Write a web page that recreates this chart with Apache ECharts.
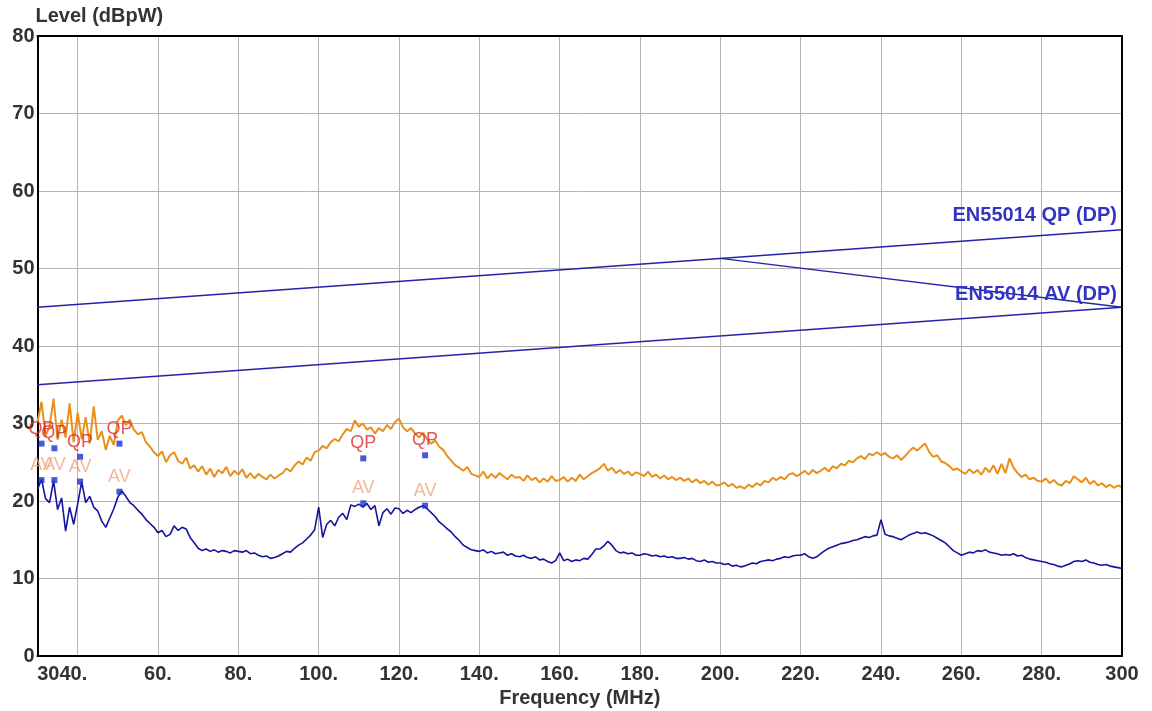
<!DOCTYPE html>
<html>
<head>
<meta charset="utf-8">
<title>EN55014 disturbance power</title>
<script src="https://cdn.jsdelivr.net/npm/echarts@6/dist/echarts.min.js"></script>
<style>
html, body { margin: 0; padding: 0; background: #fff; }
#chart { width: 1152px; height: 711px; }
</style>
</head>
<body>
<div id="chart"></div>
<script>
// frequency sweep, 1 MHz steps from 30 to 300
var startFreq = 30;
var freqStep = 1;

// peak trace (orange), dBpW, one value per MHz
var peakLevels = [
    30.2, 32.8, 28.4, 29.6, 33.2, 27.9, 30.5, 28.2, 32.6, 27.6,
    31.4, 28.0, 30.8, 27.4, 32.2, 27.9, 29.0, 26.6, 28.4, 27.2,
    30.4, 31.0, 29.8, 30.5, 29.2, 28.6, 28.9, 27.6, 27.0, 26.3,
    25.8, 26.4, 25.0, 25.9, 26.3, 25.2, 24.8, 25.6, 24.2, 24.6,
    23.8, 24.5, 23.4, 24.2, 23.1, 24.0, 23.6, 24.4, 23.2, 23.9,
    23.4, 24.1, 23.0, 23.6, 22.9, 23.5, 23.1, 22.8, 23.4, 22.9,
    23.3, 23.6, 24.2, 23.8, 24.6, 25.1, 24.7, 25.6, 25.2, 26.3,
    26.5, 27.1, 26.8, 27.6, 28.0, 27.7, 28.6, 29.3, 29.0, 30.4,
    29.6, 30.0, 29.2, 29.5, 28.7, 29.4, 29.0, 29.8, 29.3, 30.2,
    30.6, 29.5, 29.0, 29.4, 28.7, 28.2, 28.8, 28.0, 27.4, 27.8,
    27.0, 26.6, 25.8, 25.2, 24.6, 24.3, 23.9, 24.4, 23.5, 23.3,
    23.1, 23.8, 22.9, 23.5, 23.0, 23.6, 23.2, 22.8, 23.4, 23.0,
    23.1, 22.6, 23.3, 22.7, 23.0, 22.4, 22.9, 22.5, 23.2, 22.6,
    22.7, 23.1, 22.5, 23.0, 22.6, 23.4, 22.8, 23.2, 23.6, 23.9,
    24.2, 24.8, 23.9, 24.3, 23.6, 24.0, 23.5, 23.8, 23.3, 23.7,
    23.5, 23.2, 23.8, 23.1, 23.4, 22.9, 23.3, 22.8, 23.1, 22.7,
    23.0, 22.6, 22.9, 22.4, 22.8, 22.3, 22.6, 22.1, 22.5, 22.0,
    22.1, 22.4, 21.9, 22.2, 21.7, 21.9, 21.6, 22.1, 21.8, 22.3,
    22.0, 22.6, 22.4, 23.0, 22.7, 23.1, 22.8, 23.4, 23.6, 23.2,
    23.5, 23.9, 23.4, 24.0, 23.6, 23.9, 24.3, 23.8, 24.5, 24.2,
    24.8, 24.6, 25.2, 25.0, 25.5, 25.8, 25.4, 26.1, 25.9, 26.3,
    25.9, 26.2, 25.7, 25.5, 25.9, 25.3, 25.8, 26.4, 26.9, 26.5,
    27.0, 27.4, 26.3, 25.7, 25.9, 25.1, 24.9, 24.5, 24.0, 24.2,
    23.8, 23.5, 24.1, 23.6, 24.0, 23.4, 24.3, 23.7, 24.6, 23.5,
    24.8, 23.6, 25.5, 24.3, 23.6, 23.1, 23.4, 22.8, 23.0, 22.6,
    22.5, 22.9, 22.3, 22.7, 22.2, 22.0, 22.6, 22.3, 23.2, 22.8,
    22.4, 23.0, 22.2, 22.6, 22.0, 22.3, 21.8, 22.1, 21.7, 22.0,
    21.8
];

// average trace (dark blue)
var avgLevels = [
    21.5, 22.8, 20.3, 19.8, 22.6, 18.9, 20.4, 16.1, 19.2, 17.0,
    19.6, 22.5, 19.8, 20.6, 19.2, 18.7, 17.4, 16.6, 17.8, 19.0,
    20.5, 21.3, 20.6, 19.8, 19.4, 18.8, 18.3, 17.6, 17.1, 16.6,
    15.9, 16.2, 15.4, 15.7, 16.8, 16.2, 16.6, 16.4, 15.3, 14.6,
    13.9, 13.6, 13.8, 13.5, 13.7, 13.4, 13.6, 13.5, 13.3, 13.6,
    13.5, 13.4, 13.6, 13.2, 13.3, 13.0, 12.8, 12.9, 12.6, 12.7,
    12.9, 13.2, 13.5, 13.4, 13.9, 14.3, 14.6, 15.1, 15.6, 16.3,
    19.2, 15.3, 17.0, 17.5, 16.8, 17.9, 18.4, 17.6, 19.5, 19.3,
    19.6, 19.2, 19.7, 18.9, 19.4, 16.8, 18.5, 19.0, 18.3, 19.1,
    19.0, 18.4, 18.8, 18.5, 18.9, 19.2, 19.4, 19.0, 18.5, 18.0,
    17.3, 16.9, 16.4, 16.0, 15.4, 14.9, 14.3, 14.0, 13.7, 13.6,
    13.5, 13.7, 13.3, 13.5, 13.2, 13.3, 13.4, 13.0, 13.2, 12.9,
    12.8, 13.0, 12.7, 12.6, 12.8, 12.4, 12.5, 12.2, 12.0, 12.3,
    13.3, 12.3, 12.5, 12.2, 12.4, 12.3, 12.6, 12.5, 13.1, 13.8,
    13.8, 14.2, 14.8, 14.3, 13.6, 13.3, 13.4, 13.2, 13.3, 13.0,
    13.0, 13.2, 13.1, 12.9, 13.0, 12.8, 12.9, 12.7, 12.8, 12.6,
    12.6, 12.7, 12.5, 12.6, 12.3, 12.2, 12.4, 12.1, 12.2, 12.0,
    12.0, 11.8, 11.9, 11.6, 11.7, 11.5, 11.6, 11.8, 12.0, 11.9,
    12.2, 12.3, 12.4, 12.3, 12.5, 12.6, 12.8, 12.7, 12.9, 13.0,
    13.0, 13.2, 12.8, 12.6, 12.8, 13.2, 13.6, 13.9, 14.1, 14.3,
    14.5, 14.6, 14.7, 14.9, 15.0, 15.2, 15.4, 15.3, 15.5, 15.6,
    17.6, 15.7, 15.5, 15.4, 15.2, 15.0, 15.3, 15.6, 15.8, 16.0,
    15.8, 15.9, 15.7, 15.5, 15.2, 14.9, 14.6, 14.1, 13.6, 13.3,
    13.0, 13.2, 13.4, 13.3, 13.6, 13.5, 13.7, 13.4, 13.3, 13.2,
    13.0, 13.1, 13.0, 13.2, 12.9, 13.0, 12.7, 12.5, 12.4, 12.3,
    12.2, 12.1, 11.9, 11.8, 11.6, 11.5, 11.7, 11.9, 12.2, 12.3,
    12.2, 12.4, 12.1, 12.0, 11.8, 11.7, 11.8, 11.6, 11.5, 11.4,
    11.3
];

// limit lines [MHz, dBpW]
var qpLimit = [[30, 45], [300, 55]];
var avLimit = [[30, 35], [300, 45]];
var avLimitTail = [[200, 51.3], [300, 45]];

// final measurement points
var qpMarkers = [[31.0, 27.4], [34.2, 26.8], [40.6, 25.7], [50.4, 27.4], [111.1, 25.5], [126.5, 25.9]];
var avMarkers = [[31.0, 22.7], [34.2, 22.7], [40.6, 22.5], [50.4, 21.2], [111.1, 19.7], [126.5, 19.4]];

// x axis labels (30 is printed together with 40, like the original)
var freqTicks = [40, 60, 80, 100, 120, 140, 160, 180, 200, 220, 240, 260, 280, 300];

function toPairs(values) {
    var out = [];
    for (var i = 0; i < values.length; i++) {
        out.push([startFreq + i * freqStep, values[i]]);
    }
    return out;
}

var labelFont = 'Liberation Sans, Arial, sans-serif';
var limitColor = '#2424a8';

var myChart = echarts.init(document.getElementById('chart'), null, { renderer: 'canvas' });

var option = {
    animation: false,
    backgroundColor: '#fff',
    grid: { left: 37.5, right: 30, top: 36, bottom: 55, outerBoundsMode: 'none', containLabel: false },
    xAxis: [{
        type: 'value',
        min: 30,
        max: 300,
        name: 'Frequency (MHz)',
        nameLocation: 'middle',
        nameGap: 27,
        nameTextStyle: { color: '#333', fontSize: 20, fontWeight: 'bold', fontFamily: labelFont },
        axisLine: { show: true, onZero: false, lineStyle: { color: '#000', width: 2 } },
        axisTick: { show: false, customValues: freqTicks },
        splitLine: { show: true, lineStyle: { color: '#b4b4b4', width: 1 } },
        axisLabel: {
            customValues: freqTicks,
            showMaxLabel: true,
            hideOverlap: false,
            margin: 8,
            color: '#333',
            fontSize: 20,
            fontWeight: 'bold',
            fontFamily: labelFont,
            formatter: function(v) {
                if (v == 40) return '{pair|3040.}';
                if (v == 300) return '300';
                return v + '.';
            },
            rich: {
                pair: { fontSize: 20, fontWeight: 'bold', color: '#333', padding: [0, 31, 0, 0] }
            }
        }
    }, {
        // top border
        type: 'value',
        position: 'top',
        min: 30,
        max: 300,
        z: 5,
        axisLine: { show: true, onZero: false, lineStyle: { color: '#000', width: 2 } },
        axisTick: { show: false },
        axisLabel: { show: false },
        splitLine: { show: false }
    }],
    yAxis: [{
        type: 'value',
        min: 0,
        max: 80,
        interval: 10,
        name: 'Level (dBpW)',
        nameLocation: 'end',
        nameGap: 4,
        nameTextStyle: {
            color: '#333', fontSize: 20, fontWeight: 'bold', fontFamily: labelFont,
            align: 'left', verticalAlign: 'bottom', padding: [0, 0, 0, -2]
        },
        axisLine: { show: true, onZero: false, lineStyle: { color: '#000', width: 2 } },
        axisTick: { show: false },
        splitLine: { show: true, lineStyle: { color: '#b4b4b4', width: 1 } },
        axisLabel: { margin: 3, color: '#333', fontSize: 20, fontWeight: 'bold', fontFamily: labelFont }
    }, {
        // right border
        type: 'value',
        position: 'right',
        min: 0,
        max: 80,
        z: 5,
        axisLine: { show: true, onZero: false, lineStyle: { color: '#000', width: 2 } },
        axisTick: { show: false },
        axisLabel: { show: false },
        splitLine: { show: false }
    }],
    series: [{
        name: 'Peak',
        type: 'line',
        data: toPairs(peakLevels),
        showSymbol: false,
        lineStyle: { color: '#e8901c', width: 2 },
        z: 2
    }, {
        name: 'Average',
        type: 'line',
        data: toPairs(avgLevels),
        showSymbol: false,
        lineStyle: { color: '#14149e', width: 1.6 },
        z: 2
    }, {
        name: 'EN55014 QP (DP)',
        type: 'line',
        data: qpLimit,
        showSymbol: false,
        lineStyle: { color: limitColor, width: 1.3 },
        markPoint: {
            symbolSize: 0,
            data: [{ coord: qpLimit[1] }],
            label: {
                show: true,
                formatter: 'EN55014 QP (DP)',
                position: [-5, -14],
                align: 'right',
                verticalAlign: 'middle',
                color: '#3434c4',
                fontSize: 20,
                fontWeight: 'bold',
                fontFamily: labelFont
            }
        }
    }, {
        name: 'EN55014 AV (DP)',
        type: 'line',
        data: avLimit,
        showSymbol: false,
        lineStyle: { color: limitColor, width: 1.3 },
        markPoint: {
            symbolSize: 0,
            data: [{ coord: avLimit[1] }],
            label: {
                show: true,
                formatter: 'EN55014 AV (DP)',
                position: [-5, -13],
                align: 'right',
                verticalAlign: 'middle',
                color: '#3434c4',
                fontSize: 20,
                fontWeight: 'bold',
                fontFamily: labelFont
            }
        }
    }, {
        name: 'AV tail',
        type: 'line',
        data: avLimitTail,
        showSymbol: false,
        lineStyle: { color: limitColor, width: 1.3 }
    }, {
        name: 'QP',
        type: 'scatter',
        data: qpMarkers,
        symbol: 'rect',
        symbolSize: 6,
        itemStyle: { color: '#1a2fd0' },
        label: {
            show: true,
            formatter: 'QP',
            position: 'top',
            distance: 3,
            color: '#e02a2a',
            fontSize: 18,
            fontFamily: labelFont
        },
        z: 4
    }, {
        name: 'AV',
        type: 'scatter',
        data: avMarkers,
        symbol: 'rect',
        symbolSize: 6,
        itemStyle: { color: '#1a2fd0' },
        label: {
            show: true,
            formatter: 'AV',
            position: 'top',
            distance: 3,
            color: '#f2a47c',
            fontSize: 18,
            fontFamily: labelFont
        },
        z: 4
    }]
};

myChart.setOption(option, true);
</script>
</body>
</html>
